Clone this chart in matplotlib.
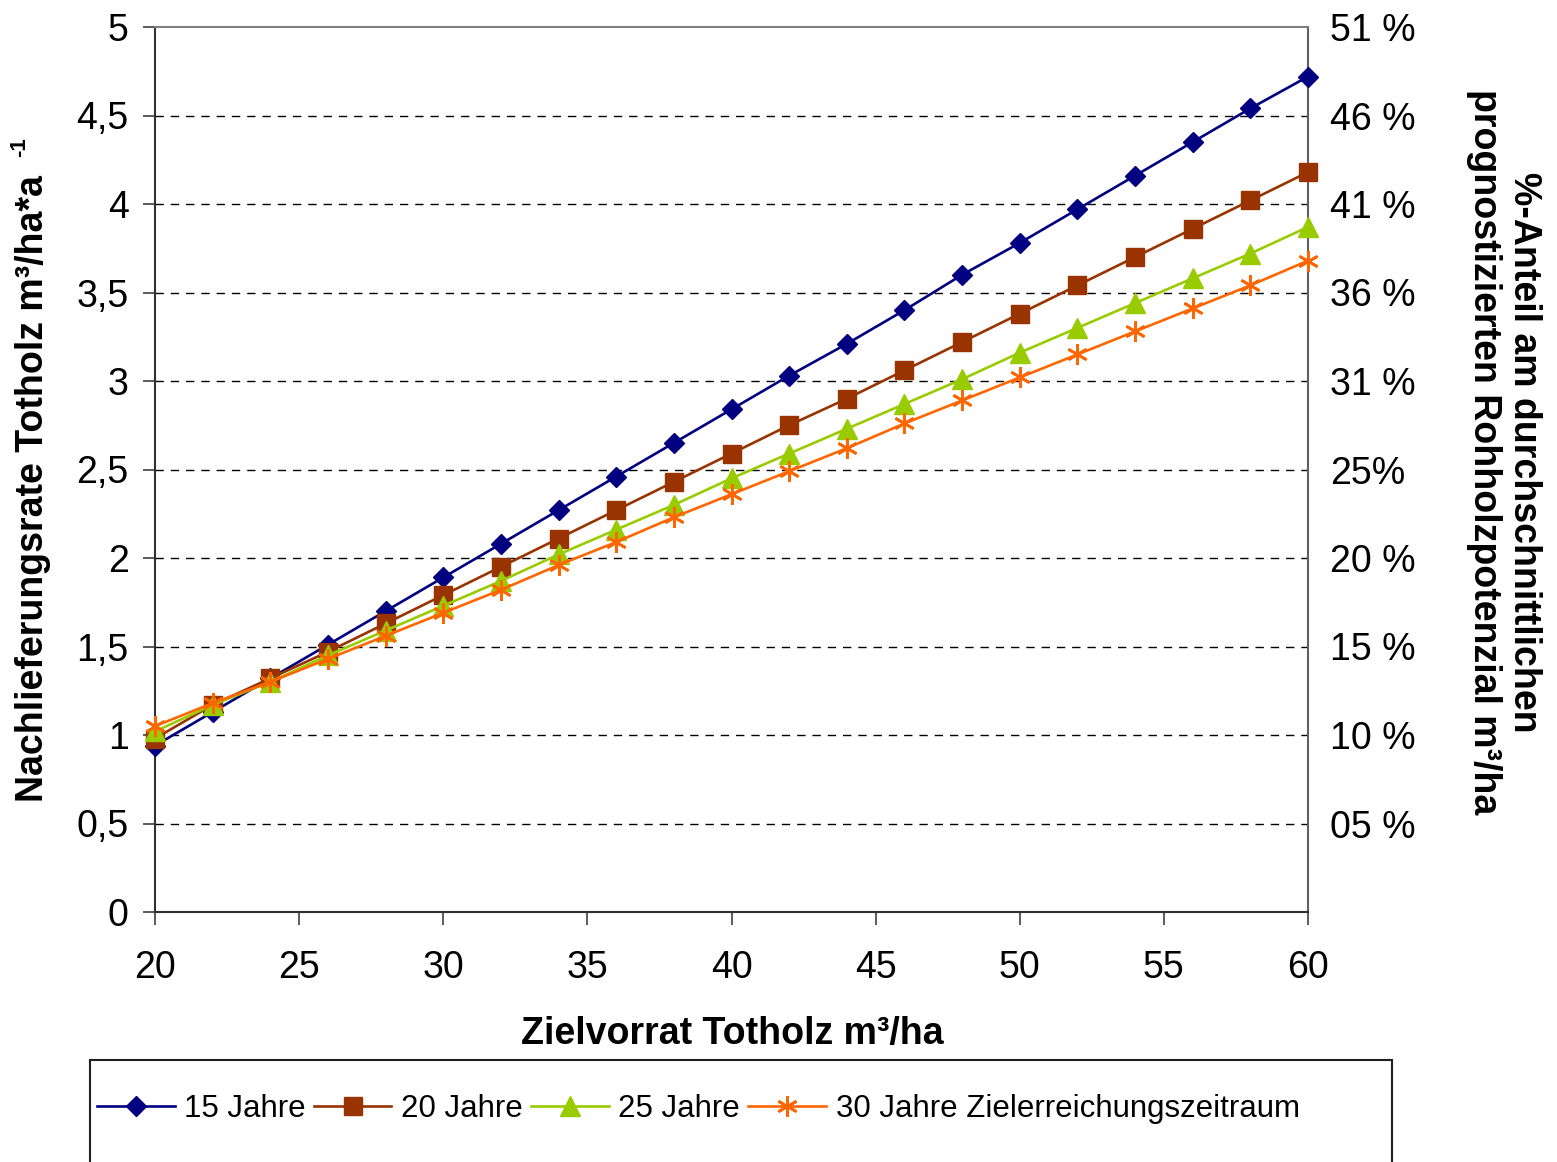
import matplotlib
matplotlib.use("Agg")
import matplotlib.pyplot as plt
from matplotlib.patches import Rectangle

plt.rcParams['font.family'] = ['Liberation Sans', 'DejaVu Sans']

x = [20, 22, 24, 26, 28, 30, 32, 34, 36, 38, 40, 42, 44, 46, 48, 50, 52, 54, 56, 58, 60]
y15 = [0.94, 1.13, 1.32, 1.51, 1.70, 1.89, 2.08, 2.27, 2.46, 2.65, 2.84, 3.03, 3.21, 3.40,
       3.60, 3.78, 3.97, 4.16, 4.35, 4.54, 4.72]
y20 = [0.98, 1.17, 1.32, 1.47, 1.63, 1.79, 1.95, 2.11, 2.27, 2.43, 2.59, 2.75, 2.90, 3.06,
       3.22, 3.38, 3.54, 3.70, 3.86, 4.02, 4.18]
y25 = [1.02, 1.17, 1.30, 1.45, 1.59, 1.73, 1.87, 2.02, 2.16, 2.30, 2.45, 2.59, 2.73, 2.87,
       3.01, 3.16, 3.30, 3.44, 3.58, 3.72, 3.87]
y30 = [1.05, 1.18, 1.30, 1.43, 1.56, 1.69, 1.82, 1.96, 2.09, 2.23, 2.36, 2.49, 2.62, 2.76,
       2.89, 3.02, 3.15, 3.28, 3.41, 3.54, 3.68]

series_labels = ['15 Jahre', '20 Jahre', '25 Jahre', '30 Jahre Zielerreichungszeitraum']
left_ticks = [0, 0.5, 1, 1.5, 2, 2.5, 3, 3.5, 4, 4.5, 5]
left_ticklabels = ['0', '0,5', '1', '1,5', '2', '2,5', '3', '3,5', '4', '4,5', '5']
right_ticklabels = ['', '05 %', '10 %', '15 %', '20 %', '25%', '31 %', '36 %', '41 %', '46 %', '51 %']
x_ticks = [20, 25, 30, 35, 40, 45, 50, 55, 60]

W, H = 1557, 1162
fig = plt.figure(figsize=(W / 100, H / 100), dpi=100)
ax = fig.add_axes([155 / W, 1 - 912 / H, (1308 - 155) / W, (912 - 27) / H])

styles = [
    dict(color='#000080', marker='D', markersize=10, lw=1.9),
    dict(color='#993300', marker='s', markersize=13, lw=1.9),
    dict(color='#99CC00', marker='^', markersize=14, lw=1.9),
    dict(color='#FF6600', marker=(6, 2, 0), markersize=15, lw=1.9, markeredgewidth=1.9),
]
handles = []
for ys, st, lab in zip([y15, y20, y25, y30], styles, series_labels):
    h, = ax.plot(x, ys, label=lab, clip_on=False, zorder=3, **st)
    handles.append(h)

ax.set_xlim(20, 60)
ax.set_ylim(0, 5)
ax.set_xticks(x_ticks)
ax.set_xticklabels([str(v) for v in x_ticks])
ax.set_yticks(left_ticks)
ax.set_yticklabels(left_ticklabels)
ax.tick_params(axis='y', direction='out', length=9, width=1.2, color='#404040', pad=10, labelsize=27)
ax.tick_params(axis='x', direction='out', length=9, width=1.2, color='#404040', pad=18, labelsize=27)

for yv in left_ticks[1:-1]:
    ax.axhline(yv, color='#000000', lw=1.0, ls=(0, (6, 5)), zorder=1)

ax.spines['left'].set_color('#303030')
ax.spines['bottom'].set_color('#303030')
ax.spines['top'].set_color('#808080')
ax.spines['right'].set_color('#606060')
for s in ax.spines.values():
    s.set_linewidth(1.5)

ax2 = ax.twinx()
ax2.set_ylim(0, 5)
ax2.set_yticks(left_ticks)
ax2.set_yticklabels(right_ticklabels)
ax2.tick_params(axis='y', length=0, pad=16, labelsize=27)
for s in ax2.spines.values():
    s.set_visible(False)

fig.text(732 / W, 1 - 1034 / H, 'Zielvorrat Totholz m³/ha', ha='center', va='center',
         fontsize=27, fontweight='bold')
fig.text(33 / W, 1 - 489 / H, 'Nachlieferungsrate Totholz m³/ha*a', ha='center', va='center',
         rotation=90, fontsize=27, fontweight='bold')
fig.text(20 / W, 1 - 147 / H, '-1', ha='center', va='center',
         rotation=90, fontsize=16, fontweight='bold')
fig.text(1504 / W, 1 - 452 / H, '%-Anteil am durchschnittlichen\nprognostizierten Rohholzpotenzial m³/ha',
         ha='center', va='center', rotation=270, fontsize=27, fontweight='bold',
         multialignment='center', linespacing=1.15)

fig.patches.append(Rectangle((90 / W, -0.05), (1392 - 90) / W, 0.05 + (1 - 1060 / H),
                             transform=fig.transFigure, fill=False, edgecolor='#202020',
                             lw=1.5, clip_on=False))

leg = fig.legend(handles=handles, labels=series_labels, loc='center left',
                 bbox_to_anchor=(97 / W, 1 - 1109 / H), ncol=4, frameon=False,
                 fontsize=22.5, handlelength=2.48, handletextpad=0.32, columnspacing=0.25,
                 borderpad=0, borderaxespad=0)

fig.savefig('out.png', dpi=100)
